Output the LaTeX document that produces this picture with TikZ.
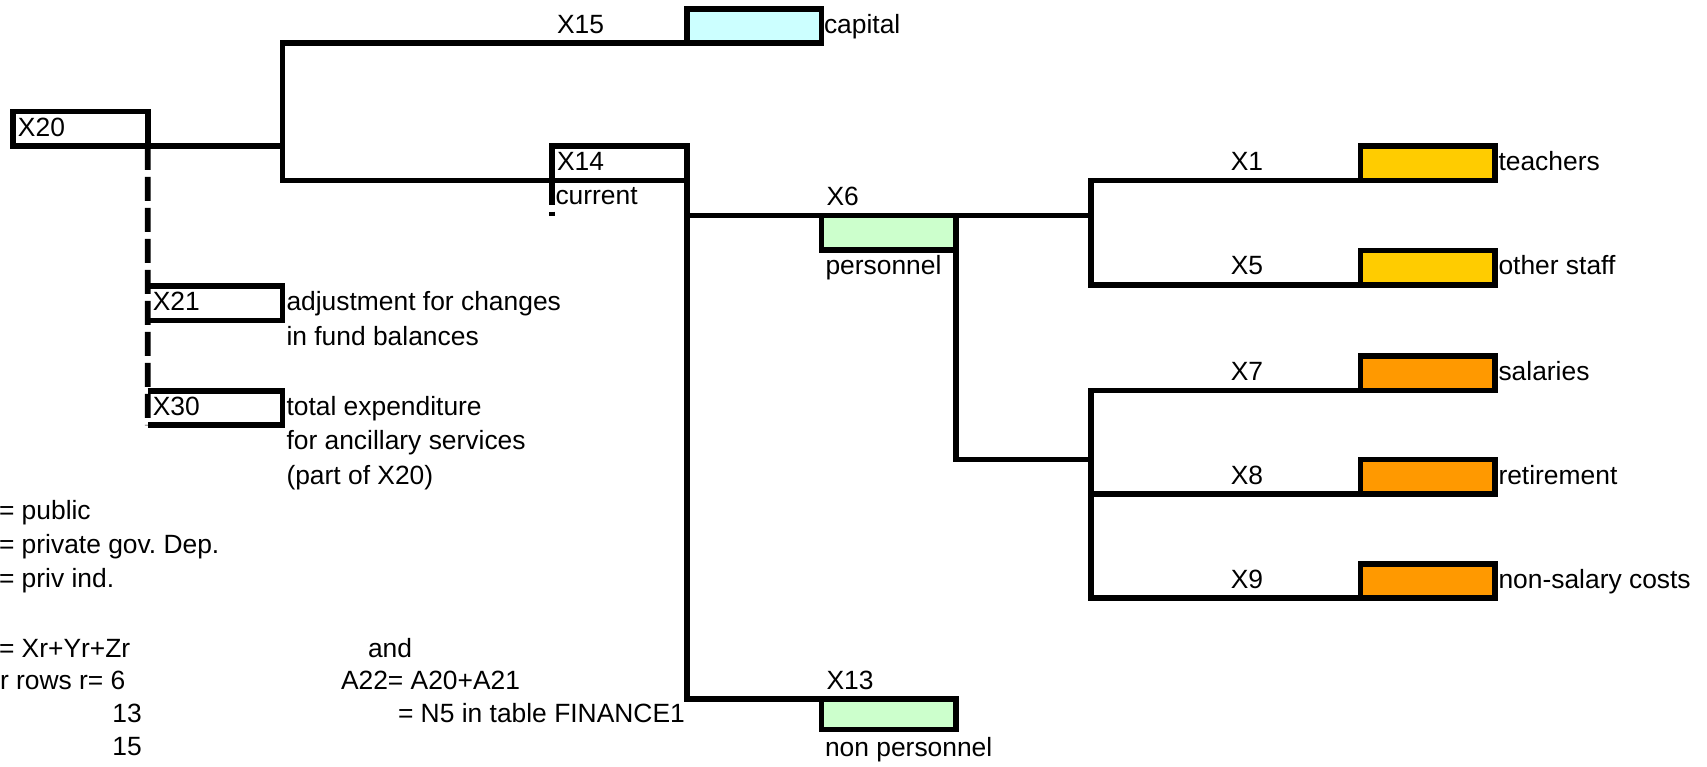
\documentclass[tikz,border=0pt]{standalone}
\usepackage{fontspec}
\setmainfont{Liberation Sans}
\usepackage{xcolor}
\usepackage{tikz}
\frenchspacing

\definecolor{capcyan}{HTML}{CCFFFF}
\definecolor{curgreen}{HTML}{CCFFCC}
\definecolor{staffgold}{HTML}{FFCC00}
\definecolor{costorange}{HTML}{FF9900}

\begin{document}
\begin{tikzpicture}[x=0.5pt, y=-0.5pt,
    every node/.style={font=\fontsize{13.2pt}{15pt}\selectfont, inner sep=0pt, outer sep=0pt},
    emptycell/.style={minimum width=67.4pt, minimum height=17.25pt},
    cellbox/.style={emptycell, draw, line width=2.9pt},
    branchline/.style={line width=2.9pt},
    dashline/.style={line width=2.9pt, dash pattern=on 12pt off 3.5pt},
    txt/.style={anchor=base west},
    txtr/.style={anchor=base east}]
    \useasboundingbox (0,0) rectangle (1707,766);
    \clip (0,0) rectangle (1707,766);

    % Total
    \node[cellbox] (x20) at (80.4,128.7) {};
    \node[txt] (t20) at (18,136.7) {X20};

    % Capital and current
    \node[cellbox, fill=capcyan] (x15) at (754.1,26.05) {};
    \node[txt] (t15) at (557,33.3) {X15};
    \node[txt] (capital) at (824,33.3) {capital};
    \node[cellbox] (x14) at (619.4,163.25) {};
    \node[txt] (t14) at (557,170.7) {X14};
    \node[txt] (current) at (555.5,204.5) {current};

    % Personnel / non personnel
    \node[cellbox, fill=curgreen] (x6) at (888.9,232.75) {};
    \node[txt] (t6) at (826.5,205.2) {X6};
    \node[txt] (personnel) at (825.5,274.7) {personnel};
    \node[cellbox, fill=curgreen, minimum height=15.25pt] (x13) at (888.9,714.25) {};
    \node[txt] (t13) at (826.5,689.7) {X13};
    \node[txt] (nonpers) at (825,756) {non personnel};

    % Staff
    \node[cellbox, fill=staffgold] (x1) at (1427.9,163.25) {};
    \node[cellbox, fill=staffgold] (x5) at (1427.9,267.8) {};
    \node[txt] (t1) at (1230.75,170.7) {X1};
    \node[txt] (t5) at (1230.75,274.7) {X5};
    \node[txt] (teachers) at (1498.5,170.7) {teachers};
    \node[txt] (other) at (1498.5,274.7) {other staff};

    % Costs
    \node[cellbox, fill=costorange] (x7) at (1427.9,373.25) {};
    \node[cellbox, fill=costorange] (x8) at (1427.9,476.75) {};
    \node[cellbox, fill=costorange] (x9) at (1427.9,581) {};
    \node[txt] (t7) at (1230.75,380.2) {X7};
    \node[txt] (t8) at (1230.75,484.2) {X8};
    \node[txt] (t9) at (1230.75,588.7) {X9};
    \node[txt] (salaries) at (1498.5,380.2) {salaries};
    \node[txt] (retire) at (1498.5,484.2) {retirement};
    \node[txt] (nonsal) at (1498.5,588.7) {non-salary costs};

    % Adjustment and ancillary
    \node[emptycell] (x21) at (215.1,303.25) {};
    \node[emptycell] (x30) at (215.1,408) {};
    \node[txt] (t21) at (152.75,310.7) {X21};
    \node[txt] (t30) at (152.75,415.7) {X30};
    \node[txt] (adj1) at (286.5,310.7) {adjustment for changes};
    \node[txt] (adj2) at (286.5,345.2) {in fund balances};
    \node[txt] (anc1) at (286.5,415.7) {total expenditure};
    \node[txt] (anc2) at (286.5,449.7) {for ancillary services};
    \node[txt] (anc3) at (286.5,484.2) {(part of X20)};

    % Notes
    \node[txt] (pub) at (-1,519.3) {= public};
    \node[txt] (gov) at (-1,553.5) {= private gov. Dep.};
    \node[txt] (ind) at (-1,587.5) {= priv ind.};
    \node[txt] (sum) at (-1,657) {= Xr+Yr+Zr};
    \node[txt] (rows) at (0,689) {r rows r= 6};
    \node[txtr] (r13) at (141.7,722) {13};
    \node[txtr] (r15) at (141.7,755) {15};
    \node[txt] (and) at (368,657) {and};
    \node[txt] (a22) at (341,689) {A22= A20+A21};
    \node[txt] (n5) at (398,722) {= N5 in table FINANCE1};

    % Junctions
    \coordinate (ctop) at (282.5,43.3);
    \coordinate (cmid) at (282.5,146);
    \coordinate (cbot) at (282.5,180.5);
    \coordinate (b6) at (686.75,215.5);
    \coordinate (ja) at (1091,215.5);
    \coordinate (jb) at (1091,459.5);
    \coordinate (d14) at (552,216);

    % Lines
    \draw[branchline] (x20.south east) -- (cmid);
    \draw[branchline] (x15.south west) -- (ctop) -- (cbot) -- (x14.south west);
    \draw[branchline] (x14.south east) |- (x13.north west);
    \draw[branchline] (b6) -- (x6.north west);
    \draw[branchline] (x6.north east) -- (ja);
    \draw[branchline] (x1.south west) -| (ja) |- (x5.south west);
    \draw[branchline] (x6.south east) |- (jb);
    \draw[branchline] (x7.south west) -| (jb) |- (x9.south west);
    \draw[branchline] (x8.south west) -- (x8.south west -| jb);
    \draw[branchline] (x21.north west) -- (x21.north east) -- (x21.south east) -- (x21.south west);
    \draw[branchline] (x30.north west) -- (x30.north east) -- (x30.south east) -- (x30.south west);
    \draw[dashline] (x20.south east) -- (x30.south west);
    \draw[dashline] (x14.south west) -- (d14);
\end{tikzpicture}
\end{document}
